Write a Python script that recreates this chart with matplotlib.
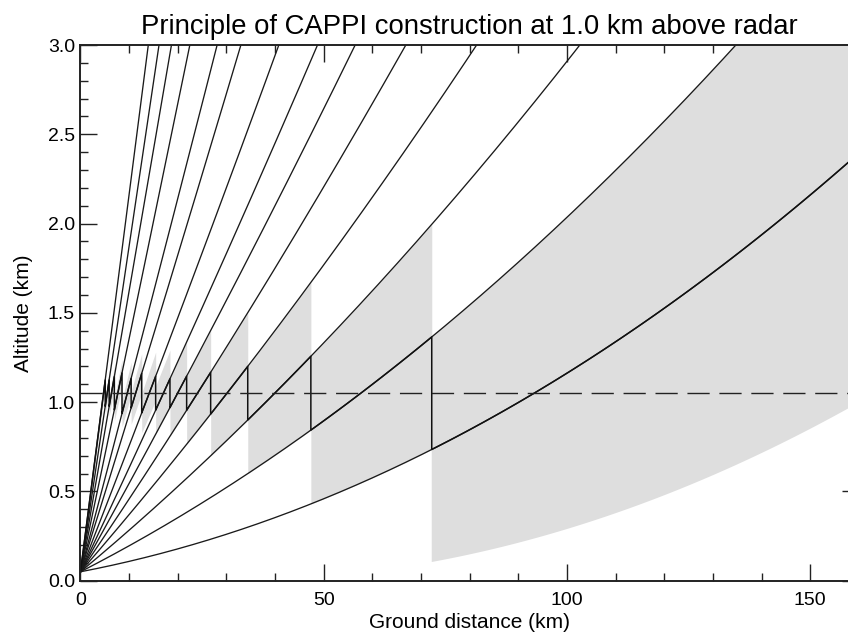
import numpy as np
import matplotlib
matplotlib.use("Agg")
import matplotlib.pyplot as plt
from matplotlib.ticker import MultipleLocator

plt.rcParams['font.family'] = ['Liberation Sans', 'DejaVu Sans']

# scan strategy (deg)
elevations = [0.3, 0.8, 1.3, 1.8, 2.3, 2.8, 3.3, 4.0, 5.0, 5.9, 7.4, 8.9, 10.3, 11.9]
beam_width = 1.0      # deg
radar_alt = 0.05      # km
cappi_above = 1.0     # km above radar
max_range = 160.0     # km

ke_r = 4.0 / 3.0 * 6371.0   # effective earth radius (km)
cappi_alt = radar_alt + cappi_above


def beam_height(s, elev):
    # 4/3 earth model, s = ground distance
    th = np.radians(elev)
    phi = s / ke_r
    return (ke_r + radar_alt) * np.cos(th) / np.cos(th + phi) - ke_r


s_all = np.linspace(0, max_range, 8001)
elev_desc = sorted(elevations, reverse=True)

# switch where the CAPPI level is half way between two beams
switches = [0.0]
for hi, lo in zip(elev_desc[:-1], elev_desc[1:]):
    mid = 0.5 * (beam_height(s_all, hi) + beam_height(s_all, lo))
    switches.append(float(np.interp(cappi_alt, mid, s_all)))
switches.append(max_range)

fig = plt.figure(figsize=(8.48, 6.35), dpi=100)
ax = fig.add_axes([0.0949, 0.0855, 0.918, 0.8436])

cap_s, cap_h = [], []
for j, el in enumerate(elev_desc):
    seg = np.linspace(switches[j], switches[j + 1], 300)
    lo = beam_height(seg, el - beam_width / 2)
    up = beam_height(seg, el + beam_width / 2)
    ax.fill_between(seg, lo, up, color='#dedede', lw=0, zorder=2)
    cap_s.extend(seg)
    cap_h.extend(beam_height(seg, el))

for el in elevations:
    ax.plot(s_all, beam_height(s_all, el), color='#1a1a1a', lw=0.95, zorder=3)

ax.plot(cap_s, cap_h, color='#111111', lw=1.1, zorder=4)
ax.axhline(cappi_alt, color='#222222', lw=1.0, dashes=(16, 7), zorder=4)

ax.set_xlim(0, max_range)
ax.set_ylim(0, 3.0)
ax.xaxis.set_major_locator(MultipleLocator(50))
ax.xaxis.set_minor_locator(MultipleLocator(10))
ax.yaxis.set_major_locator(MultipleLocator(0.5))
ax.yaxis.set_minor_locator(MultipleLocator(0.1))
ax.yaxis.set_major_formatter(matplotlib.ticker.FormatStrFormatter('%.1f'))

ax.tick_params(which='both', direction='in', top=True, right=True,
               width=1.0, color='#222222', labelsize=14)
ax.tick_params(which='major', length=12)
ax.tick_params(which='minor', length=6)
ax.tick_params(axis='x', pad=8)
ax.tick_params(axis='y', pad=4)
for sp in ax.spines.values():
    sp.set_linewidth(1.4)
    sp.set_color('#222222')
    sp.set_zorder(5)

ax.set_xlabel('Ground distance (km)', fontsize=15, labelpad=3)
ax.set_ylabel('Altitude (km)', fontsize=15, labelpad=11)
ax.set_title('Principle of CAPPI construction at 1.0 km above radar',
             fontsize=19.8, pad=8)

fig.savefig('out.png', dpi=100)
